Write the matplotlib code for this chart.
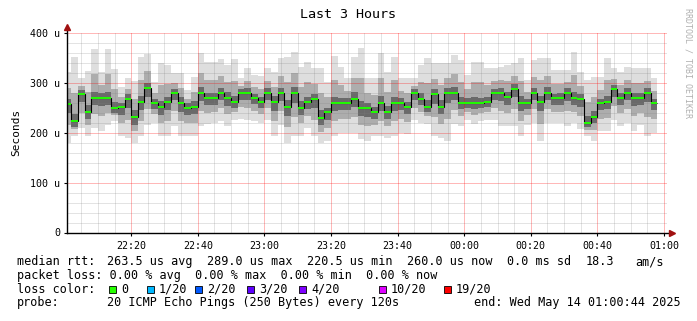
import matplotlib
matplotlib.use("Agg")
import matplotlib.pyplot as plt
from matplotlib.patches import Rectangle
import numpy as np

plt.rcParams['font.family'] = ['DejaVu Sans Mono']

# 2 minute steps, x in minutes after 22:00, values in microseconds
step_min = 2
med = [257, 223, 277, 241, 270, 270, 269, 250, 251, 267,
       231, 261, 289, 259, 251, 261, 279, 259, 250, 252,
       280, 269, 269, 280, 269, 261, 280, 280, 269, 261,
       279, 261, 279, 252, 279, 250, 261, 267, 230, 241,
       260, 260, 260, 268, 249, 249, 241, 259, 241, 260,
       260, 252, 280, 268, 252, 277, 252, 280, 280, 260,
       260, 260, 260, 262, 280, 280, 271, 288, 260, 260,
       279, 261, 280, 269, 269, 280, 269, 267, 220, 232,
       259, 261, 287, 270, 280, 269, 269, 280, 260]
# outer smoke (lightest)
hi1 = [322, 352, 309, 323, 367, 322, 367, 327, 291, 309,
       303, 351, 357, 302, 339, 335, 320, 319, 285, 312,
       360, 342, 342, 347, 335, 347, 309, 329, 315, 313,
       329, 322, 350, 351, 361, 332, 342, 329, 329, 302,
       353, 332, 309, 352, 369, 309, 309, 359, 322, 352,
       309, 309, 309, 335, 349, 339, 339, 339, 355, 345,
       315, 342, 342, 329, 329, 332, 335, 339, 349, 305,
       345, 349, 349, 325, 325, 325, 362, 322, 305, 312,
       312, 349, 329, 322, 332, 329, 329, 329, 309]
lo1 = [180, 193, 210, 193, 210, 203, 215, 223, 193, 190,
       180, 193, 215, 220, 193, 193, 213, 193, 193, 193,
       213, 217, 220, 223, 213, 225, 228, 225, 223, 220,
       225, 193, 215, 180, 193, 193, 210, 193, 180, 183,
       193, 200, 200, 200, 187, 183, 193, 193, 190, 193,
       200, 197, 225, 220, 217, 193, 190, 183, 217, 213,
       225, 217, 223, 225, 225, 213, 213, 213, 193, 215,
       220, 183, 220, 220, 220, 213, 220, 207, 193, 183,
       203, 203, 225, 213, 220, 203, 215, 193, 200]
# middle smoke
hi2 = [289, 280, 293, 282, 318, 296, 318, 288, 271, 288,
       267, 306, 323, 280, 295, 298, 299, 289, 267, 282,
       320, 305, 305, 313, 302, 304, 294, 304, 292, 287,
       304, 291, 314, 301, 320, 291, 301, 298, 279, 271,
       306, 296, 284, 310, 309, 279, 275, 309, 281, 306,
       284, 280, 294, 301, 300, 308, 295, 309, 317, 302,
       287, 301, 301, 295, 304, 306, 303, 313, 304, 282,
       312, 305, 314, 297, 297, 302, 315, 294, 262, 272,
       285, 305, 308, 296, 306, 299, 299, 304, 284]
lo2 = [215, 207, 240, 215, 237, 233, 239, 235, 219, 225,
       203, 224, 248, 238, 219, 224, 243, 223, 219, 220,
       243, 240, 242, 249, 238, 241, 251, 250, 244, 238,
       249, 224, 244, 212, 232, 219, 233, 226, 202, 209,
       223, 227, 227, 231, 215, 213, 215, 223, 213, 223,
       227, 222, 250, 242, 233, 231, 218, 227, 245, 234,
       241, 236, 240, 242, 250, 243, 239, 247, 223, 235,
       247, 218, 247, 242, 242, 243, 242, 234, 205, 205,
       228, 229, 253, 239, 247, 233, 239, 232, 227]
# inner smoke (darkest)
hi3 = [267, 238, 285, 255, 282, 279, 282, 261, 259, 277,
       245, 273, 299, 268, 264, 272, 287, 271, 259, 263,
       292, 279, 280, 289, 281, 274, 287, 290, 278, 272,
       289, 273, 290, 266, 291, 263, 271, 278, 245, 250,
       272, 270, 269, 281, 264, 259, 252, 273, 253, 272,
       269, 262, 288, 280, 266, 288, 265, 290, 292, 272,
       269, 271, 270, 271, 288, 290, 282, 297, 273, 268,
       289, 273, 291, 278, 279, 289, 282, 277, 234, 244,
       268, 273, 295, 280, 289, 280, 279, 289, 268]
lo3 = [239, 211, 261, 227, 255, 253, 256, 240, 235, 249,
       216, 245, 272, 247, 236, 245, 265, 242, 235, 237,
       264, 255, 256, 265, 254, 250, 266, 266, 257, 249,
       265, 244, 264, 234, 260, 235, 248, 249, 216, 226,
       243, 245, 245, 252, 233, 232, 228, 243, 227, 244,
       245, 238, 266, 255, 242, 258, 237, 260, 265, 248,
       250, 248, 249, 251, 266, 264, 256, 271, 244, 247,
       265, 243, 265, 256, 256, 264, 256, 252, 211, 219,
       245, 247, 272, 256, 265, 253, 255, 261, 245]

xtick_min = [20, 40, 60, 80, 100, 120, 140, 160, 180]
xtick_lab = ['22:20', '22:40', '23:00', '23:20', '23:40',
             '00:00', '00:20', '00:40', '01:00']
ytick_val = [0, 100, 200, 300, 400]
ytick_lab = ['0', '100 u', '200 u', '300 u', '400 u']

loss_lab = ['0', '1/20', '2/20', '3/20', '4/20', '10/20', '19/20']
loss_col = ['#26ff00', '#00b8ff', '#0059ff', '#5e00ff', '#7e00ff', '#dd00ff', '#ff0000']

W, H = 697, 321
fig = plt.figure(figsize=(W / 100, H / 100), dpi=100)
fig.patch.set_facecolor('white')
ax = fig.add_axes([67 / W, (H - 232.5) / H, (666.5 - 67) / W, 199.8 / H])

edges = np.arange(len(med) + 1) * step_min
ax.stairs(hi1, edges, baseline=lo1, fill=True, color='#dedede', lw=0, zorder=1)
ax.stairs(hi2, edges, baseline=lo2, fill=True, color='#adadad', lw=0, zorder=2)
ax.stairs(hi3, edges, baseline=lo3, fill=True, color='#6a6a6a', lw=0, zorder=3)

# grid on top of the smoke
for v in range(20, 400, 20):
    if v % 100:
        ax.axhline(v, color='#808080', alpha=0.22, lw=0.72, zorder=4)
for v in range(100, 401, 100):
    ax.axhline(v, color='#ff0000', alpha=0.28, lw=0.72, zorder=4)
for m in range(5, 181, 5):
    if m % 20:
        ax.axvline(m, color='#808080', alpha=0.22, lw=0.72, zorder=4)
for m in xtick_min:
    ax.axvline(m, color='#ff0000', alpha=0.28, lw=0.72, zorder=4)

ax.stairs(med, edges, baseline=None, color='black', lw=0.8, zorder=5)
ax.hlines(med, edges[:-1], edges[1:], color='#20ff00', lw=1.4, zorder=6)

ax.set_xlim(0.733, 180.733)
ax.set_ylim(0, 400)
for s in ax.spines.values():
    s.set_visible(False)
ax.set_xticks(xtick_min, xtick_lab)
ax.set_yticks(ytick_val, ytick_lab)
ax.tick_params(axis='both', labelsize=7.2, length=2, width=0.8)
ax.tick_params(axis='x', pad=4)
ax.tick_params(axis='y', pad=3)

# axes with arrows
ax.plot([0, 1.008], [0, 0], transform=ax.transAxes, color='black', lw=1, clip_on=False, zorder=7)
ax.plot([0, 0], [0, 1.025], transform=ax.transAxes, color='black', lw=1, clip_on=False, zorder=7)
ax.plot([1.01], [0], marker='>', ms=4, color='#a01010', transform=ax.transAxes, clip_on=False, zorder=8)
ax.plot([0], [1.03], marker='^', ms=4, color='#a01010', transform=ax.transAxes, clip_on=False, zorder=8)

fig.text(347.5 / W, 1 - 15 / H, 'Last 3 Hours', ha='center', va='center', fontsize=9.6)
fig.text(16 / W, 1 - 132 / H, 'Seconds', ha='center', va='center', rotation=90, fontsize=8)
fig.text(688 / W, 1 - 63 / H, 'RRDTOOL / TOBI OETIKER', ha='center', va='center',
         rotation=270, fontsize=6, color='#b0b0b0')

fs = 8.5
y1, y2, y3, y4 = 1 - 261.7 / H, 1 - 275 / H, 1 - 289.3 / H, 1 - 302.7 / H
fig.text(16.7 / W, y1, 'median rtt:', va='center', fontsize=fs)
row1 = [(107.3, '263.5 us avg'), (207.3, '289.0 us max'), (307.3, '220.5 us min'),
        (407.3, '260.0 us now'), (506.7, '0.0 ms sd'), (586, '18.3'), (635, 'am/s')]
for x, t in row1:
    fig.text(x / W, y1, t, va='center', fontsize=fs)
fig.text(16.7 / W, y2, 'packet loss: 0.00 % avg  0.00 % max  0.00 % min  0.00 % now',
         va='center', fontsize=fs)
fig.text(16.7 / W, y3, 'loss color:', va='center', fontsize=fs)
sq_x = [109, 146.7, 195, 247.3, 299, 379, 444]
for x, lab, c in zip(sq_x, loss_lab, loss_col):
    fig.add_artist(Rectangle((x / W, 1 - 292.7 / H), 7 / W, 7 / H, transform=fig.transFigure,
                             fc=c, ec='black', lw=0.6))
    fig.text((x + 12) / W, y3, lab, va='center', fontsize=fs)
fig.text(16.7 / W, y4, 'probe:', va='center', fontsize=fs)
fig.text(107.3 / W, y4, '20 ICMP Echo Pings (250 Bytes) every 120s', va='center', fontsize=fs)
fig.text(681 / W, y4, 'end: Wed May 14 01:00:44 2025', ha='right', va='center', fontsize=fs)

fig.savefig('out.png', dpi=100, facecolor='white')
